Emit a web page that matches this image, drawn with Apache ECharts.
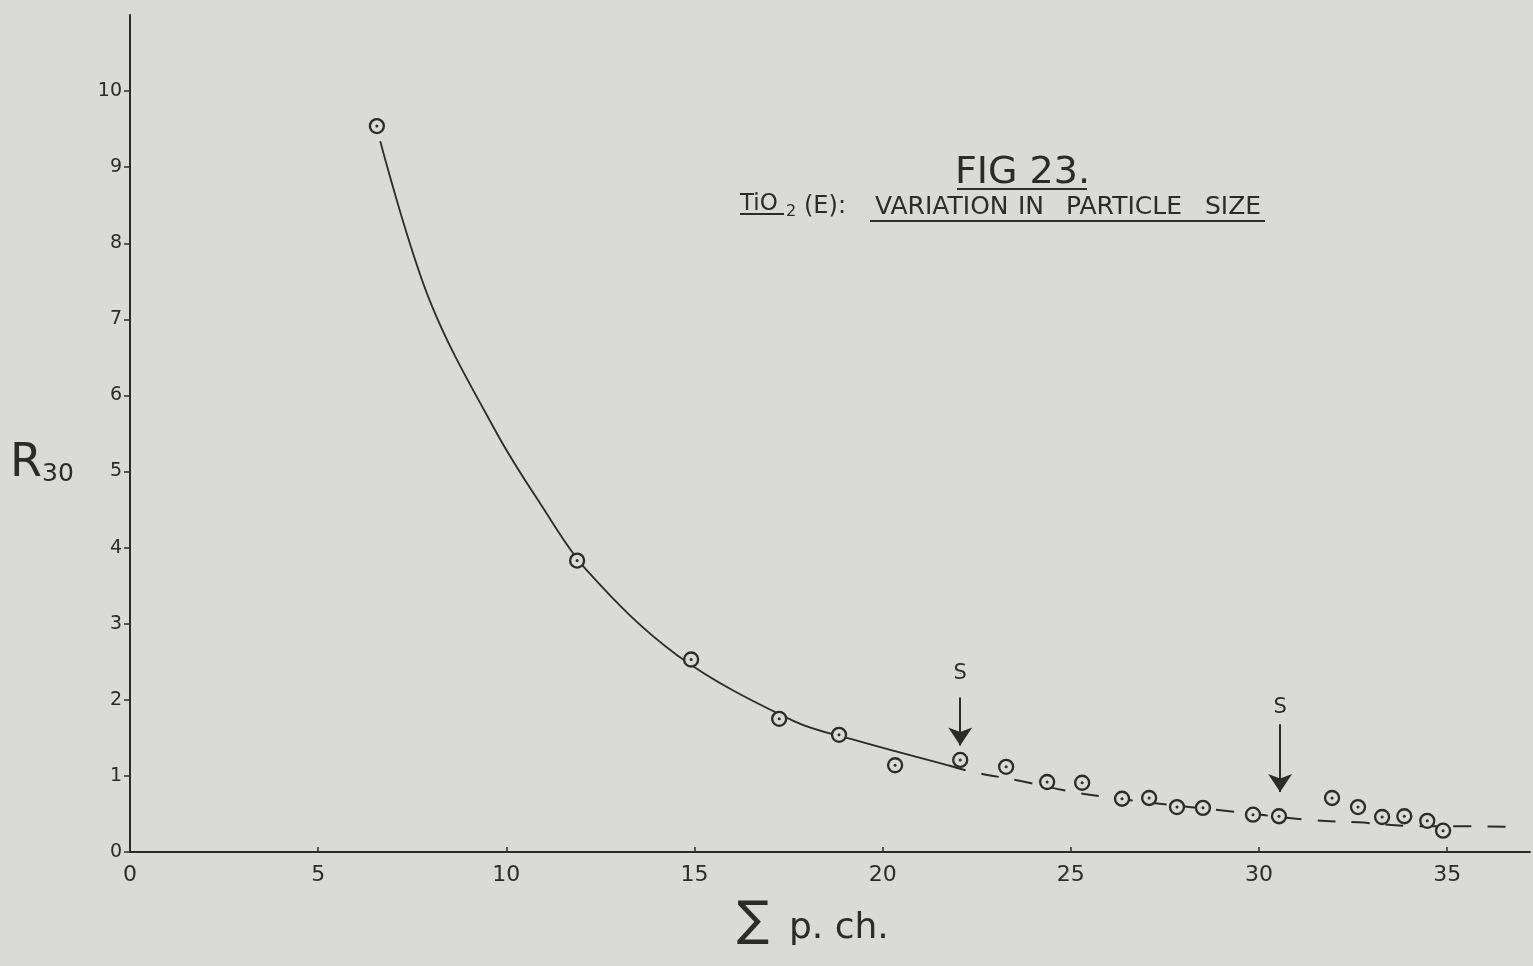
<!DOCTYPE html>
<html>
<head>
<meta charset="utf-8">
<script src="https://cdn.jsdelivr.net/npm/echarts@6/dist/echarts.min.js"></script>
<style>
html,body{margin:0;padding:0;background:#dadad8;}
#chart{width:1533px;height:966px;}
</style>
</head>
<body>
<div id="chart"></div>
<script>
// ---- data ----
const xTicks = [0, 5, 10, 15, 20, 25, 30, 35];
const yTicks = [0, 1, 2, 3, 4, 5, 6, 7, 8, 9, 10];

const pointsX = [6.56, 11.88, 14.91, 17.25, 18.84, 20.33, 22.06, 23.28, 24.37, 25.30, 26.36,
                 27.08, 27.82, 28.51, 29.84, 30.53, 31.94, 32.63, 33.27, 33.86, 34.47, 34.89];
const pointsY = [9.54, 3.83, 2.53, 1.75, 1.54, 1.14, 1.21, 1.12, 0.92, 0.91, 0.70,
                 0.71, 0.59, 0.58, 0.49, 0.47, 0.71, 0.59, 0.46, 0.47, 0.41, 0.28];

const solidCurveX = [6.65, 7.97, 9.75, 10.9, 12.14, 14.53, 17.64, 19.27, 21.74];
const solidCurveY = [9.34, 7.24, 5.50, 4.58, 3.70, 2.59, 1.72, 1.47, 1.14];

const dashCurveX = [21.74, 22.32, 23.70, 24.93, 25.96, 27.42, 28.97, 31.36, 32.63, 34.12, 35.37, 36.75];
const dashCurveY = [1.14, 1.06, 0.93, 0.80, 0.72, 0.63, 0.55, 0.42, 0.39, 0.34, 0.34, 0.33];

const arrowX = [22.06, 30.56];
const arrowTop = [2.03, 1.68];
const arrowBottom = [1.40, 0.79];
const sLabelY = [2.35, 1.90];
const sLabels = ['S', 'S'];

const titleText = 'FIG 23.';
const subtitleWords = ['TiO', '2', '(E):', 'VARIATION', 'IN', 'PARTICLE', 'SIZE'];
const xNameSymbol = '\u2211';
const xName = 'p. ch.';
const yName = 'R';
const yNameSub = '30';

// ---- build ----
const ink = '#2b2b2b';
const paper = '#dadad8';
const font = 'DejaVu Sans';

const zip = (a, b) => a.map((v, i) => [v, b[i]]);
const txt = (s, left, top, size) => ({
  type: 'text', left: left, top: top,
  style: { text: s, fontSize: size, fontFamily: font, fill: ink }
});
const uline = (x1, x2, y) => ({
  type: 'line', shape: { x1: x1, y1: y, x2: x2, y2: y }, style: { stroke: ink, lineWidth: 2 }
});

// subtitle word layout (left edges, px) – styling only
const subLeft = [740, 786, 804, 875, 1018, 1066, 1205];
const subTop = [193, 204, 195, 195, 195, 195, 195];
const subSize = [23, 16, 24, 25, 25, 25, 25];

const chart = echarts.init(document.getElementById('chart'));
chart.setOption({
  backgroundColor: paper,
  animation: false,
  grid: { left: 130, right: 3, top: 15, bottom: 114, containLabel: false },
  xAxis: {
    type: 'value', min: 0, max: 37.2, interval: 5,
    axisLine: { lineStyle: { color: ink, width: 2 } },
    axisTick: { show: true, inside: true, length: 5, customValues: xTicks, lineStyle: { color: ink, width: 1.5 } },
    axisLabel: { customValues: xTicks, color: ink, fontSize: 22, fontFamily: font, margin: 12 },
    splitLine: { show: false }
  },
  yAxis: {
    type: 'value', min: 0, max: 11, interval: 1,
    axisLine: { show: true, lineStyle: { color: ink, width: 2 } },
    axisTick: { show: true, length: 6, customValues: yTicks, lineStyle: { color: ink, width: 1.5 } },
    axisLabel: { customValues: yTicks, color: ink, fontSize: 19, fontFamily: font, margin: 8 },
    splitLine: { show: false }
  },
  series: [
    {
      type: 'line', data: zip(solidCurveX, solidCurveY), smooth: 0.35, showSymbol: false,
      lineStyle: { color: ink, width: 1.8 }, z: 2
    },
    {
      type: 'line', data: zip(dashCurveX, dashCurveY), smooth: 0.35, showSymbol: false,
      lineStyle: { color: ink, width: 2, type: [18, 16] }, z: 2
    },
    {
      type: 'scatter', data: zip(pointsX, pointsY), symbol: 'circle', symbolSize: 14,
      itemStyle: { color: paper, borderColor: ink, borderWidth: 2.3, opacity: 1 }, z: 3
    },
    {
      type: 'scatter', data: zip(pointsX, pointsY), symbol: 'circle', symbolSize: 3,
      itemStyle: { color: ink, opacity: 1 }, z: 4
    },
    {
      type: 'lines', coordinateSystem: 'cartesian2d', polyline: false,
      data: arrowX.map((x, i) => ({ coords: [[x, arrowTop[i]], [x, arrowBottom[i]]] })),
      symbol: ['none', 'arrow'], symbolSize: [10, 18],
      lineStyle: { color: ink, width: 2, opacity: 1 }, z: 3
    },
    {
      type: 'scatter', data: zip(arrowX, sLabelY).map((d, i) => ({ value: d, name: sLabels[i] })),
      symbolSize: 1, itemStyle: { color: ink, opacity: 1 },
      label: { show: true, position: 'inside', formatter: p => p.name, color: ink, opacity: 1,
               textBorderWidth: 0, fontSize: 21, fontFamily: font },
      z: 5
    }
  ],
  graphic: [
    txt(titleText, 955, 154, 38),
    uline(957, 1087, 189),
    ...subtitleWords.map((w, i) => txt(w, subLeft[i], subTop[i], subSize[i])),
    uline(740, 784, 214),
    uline(870, 1265, 221),
    txt(yName, 10, 441, 46),
    txt(yNameSub, 42, 462, 25),
    txt(xNameSymbol, 737, 899, 48),
    txt(xName, 789, 911, 36)
  ]
});
</script>
</body>
</html>
